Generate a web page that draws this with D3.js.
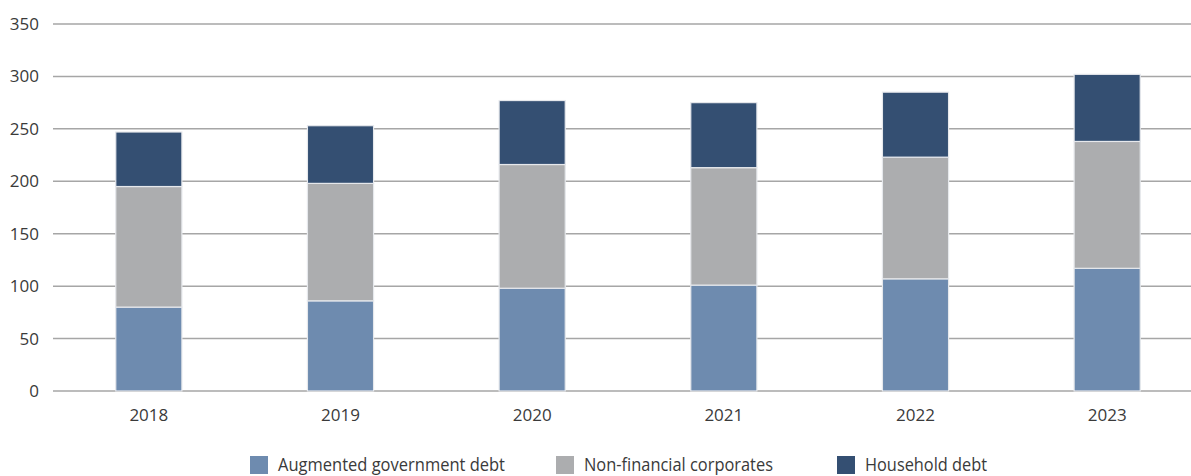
<!DOCTYPE html>
<html>
<head>
<meta charset="utf-8">
<script src="https://cdn.jsdelivr.net/npm/d3@7"></script>
<style>
  body { margin: 0; background: #fff; }
  text { font-family: "Open Sans", "Noto Sans", sans-serif; fill: #3a3a3a; }
</style>
</head>
<body>
<div id="chart"></div>
<script>
const years = ["2018", "2019", "2020", "2021", "2022", "2023"]
const government = [80, 86, 98, 101, 107, 117]
const corporates = [115, 112, 118, 112, 116, 121]
const household = [52, 55, 61, 62, 62, 64]
const seriesNames = ["Augmented government debt", "Non-financial corporates", "Household debt"]
const yTicks = [0, 50, 100, 150, 200, 250, 300, 350]

const width = 1191
const height = 476
const colors = ["#6e8baf", "#acadaf", "#344f72"]

const rows = years.map((year, i) => ({
  year: year,
  gov: government[i],
  corp: corporates[i],
  house: household[i]
}))
const keys = ["gov", "corp", "house"]

const svg = d3.select("#chart")
  .append("svg")
  .attr("width", width)
  .attr("height", height)

const x = d3.scaleBand()
  .domain(years)
  .range([53, 1203])
  .paddingInner(0.655)
  .paddingOuter(0.3275)

const y = d3.scaleLinear()
  .domain([0, 350])
  .range([391, 24])

// gridlines
svg.append("g")
  .selectAll("line")
  .data(yTicks)
  .enter()
  .append("line")
  .attr("x1", 53)
  .attr("x2", width)
  .attr("y1", d => y(d))
  .attr("y2", d => y(d))
  .attr("stroke", "#a6a6a6")
  .attr("stroke-width", 1.5)

// y labels
svg.append("g")
  .selectAll("text")
  .data(yTicks)
  .enter()
  .append("text")
  .attr("x", 39)
  .attr("y", d => y(d))
  .attr("dy", "0.35em")
  .attr("text-anchor", "end")
  .style("font-size", "17px")
  .text(d => d)

const stacked = d3.stack().keys(keys)(rows)

svg.append("g")
  .selectAll("g")
  .data(stacked)
  .enter()
  .append("g")
  .attr("fill", (d, i) => colors[i])
  .selectAll("rect")
  .data(d => d)
  .enter()
  .append("rect")
  .attr("x", d => x(d.data.year))
  .attr("width", x.bandwidth())
  .attr("y", d => y(d[1]))
  .attr("height", d => y(d[0]) - y(d[1]))
  .attr("stroke", "#e6e8ec")
  .attr("stroke-width", 1.2)

// x labels
svg.append("g")
  .selectAll("text")
  .data(years)
  .enter()
  .append("text")
  .attr("x", d => x(d) + x.bandwidth() / 2)
  .attr("y", 415)
  .attr("dy", "0.35em")
  .attr("text-anchor", "middle")
  .style("font-size", "17px")
  .text(d => d)

// legend
const legendX = [250, 556, 837]
const legendW = [227, 189, 122]
const legend = svg.append("g")
  .selectAll("g")
  .data(seriesNames)
  .enter()
  .append("g")
  .attr("transform", (d, i) => `translate(${legendX[i]},456)`)

legend.append("rect")
  .attr("width", 18)
  .attr("height", 18)
  .attr("fill", (d, i) => colors[i])

legend.append("text")
  .attr("x", 28)
  .attr("y", 9)
  .attr("dy", "0.35em")
  .attr("textLength", (d, i) => legendW[i])
  .attr("lengthAdjust", "spacingAndGlyphs")
  .style("font-size", "18px")
  .text(d => d)
</script>
</body>
</html>
